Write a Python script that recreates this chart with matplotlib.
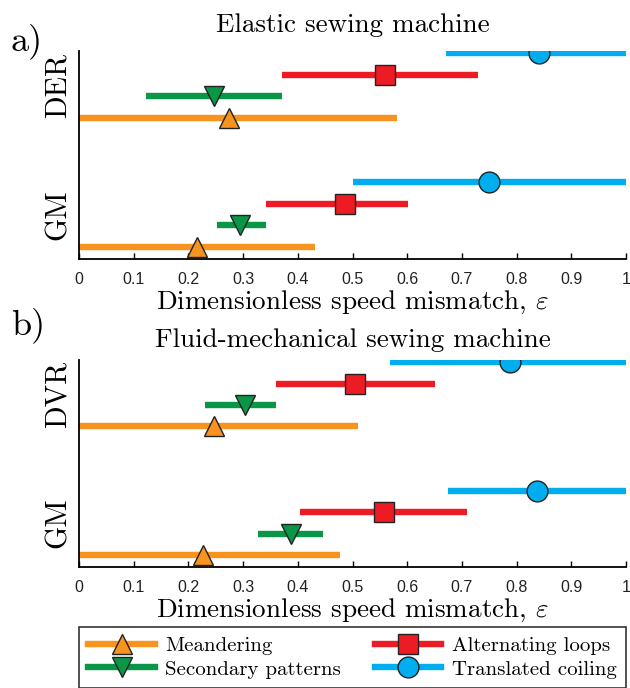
import matplotlib
matplotlib.use("Agg")
import matplotlib.pyplot as plt
from matplotlib.lines import Line2D

# Dati: per ogni regime (basso, centro, alto)
labels = ["Meandering", "Secondary patterns", "Alternating loops", "Translated coiling"]
colors = ["#F7931E", "#0A9647", "#ED1C24", "#00AEEF"]
markers = ["^", "v", "s", "o"]

# a) Elastic sewing machine
a_der_lo = [0.0, 0.122, 0.372, 0.671]
a_der_mid = [0.275, 0.247, 0.559, 0.840]
a_der_hi = [0.581, 0.372, 0.730, 1.0]
a_gm_lo = [0.0, 0.252, 0.342, 0.501]
a_gm_mid = [0.215, 0.295, 0.487, 0.750]
a_gm_hi = [0.431, 0.342, 0.601, 1.0]

# b) Fluid-mechanical sewing machine
b_dvr_lo = [0.0, 0.230, 0.360, 0.569]
b_dvr_mid = [0.246, 0.303, 0.505, 0.788]
b_dvr_hi = [0.510, 0.360, 0.650, 1.0]
b_gm_lo = [0.0, 0.327, 0.404, 0.674]
b_gm_mid = [0.227, 0.388, 0.558, 0.838]
b_gm_hi = [0.478, 0.446, 0.710, 1.0]

xticks = [0, 0.1, 0.2, 0.3, 0.4, 0.5, 0.6, 0.7, 0.8, 0.9, 1]
xticklabels = ["0", "0.1", "0.2", "0.3", "0.4", "0.5", "0.6", "0.7", "0.8", "0.9", "1"]

plt.rcParams['mathtext.fontset'] = 'cm'
serif = 'cmr10'
sans = 'Liberation Sans'


def draw_group(ax, lo, mid, hi, base):
    for i in range(4):
        y = base + i
        ax.plot([lo[i], hi[i]], [y, y], color=colors[i], lw=4.6, solid_capstyle='butt', zorder=2)
        ax.plot(mid[i], y, marker=markers[i], ms=15, mfc=colors[i], mec='#222222', mew=1.0,
                ls='none', zorder=3)


def setup(ax, title, top_label, letter, title_pad, letter_y):
    ax.set_xlim(0, 1)
    ax.set_ylim(-0.56, 9.1)
    ax.spines['top'].set_visible(False)
    ax.spines['right'].set_visible(False)
    ax.spines['left'].set_linewidth(1.3)
    ax.spines['bottom'].set_linewidth(1.3)
    ax.set_xticks(xticks)
    ax.set_xticklabels(xticklabels, family=sans, fontsize=11.5, color='#222222')
    ax.tick_params(axis='x', direction='in', length=4, width=1, pad=9.5)
    ax.set_yticks([1.5, 7.5])
    ax.set_yticklabels(["GM", top_label], rotation=90, va='center', family=serif, fontsize=21.5)
    ax.tick_params(axis='y', length=0, pad=5)
    ax.set_xlabel(r"Dimensionless speed mismatch, $\varepsilon$", family=serif, fontsize=19.5, labelpad=1)
    ax.set_title(title, family=serif, fontsize=19.5, pad=title_pad)
    ax.text(-0.125, letter_y, letter, transform=ax.transAxes, family=serif, fontsize=26, va='center')


fig = plt.figure(figsize=(6.3, 6.88), dpi=100)
ax1 = fig.add_axes([0.1254, 0.6235, 0.8683, 0.3024])
ax2 = fig.add_axes([0.1254, 0.1759, 0.8683, 0.3008])

draw_group(ax1, a_gm_lo, a_gm_mid, a_gm_hi, 0)
draw_group(ax1, a_der_lo, a_der_mid, a_der_hi, 6)
setup(ax1, "Elastic sewing machine", "DER", "a)", 13.5, 1.045)

draw_group(ax2, b_gm_lo, b_gm_mid, b_gm_hi, 0)
draw_group(ax2, b_dvr_lo, b_dvr_mid, b_dvr_hi, 6)
setup(ax2, "Fluid-mechanical sewing machine", "DVR", "b)", 9.5, 1.17)

handles = [Line2D([0], [0], color=colors[i], lw=4.6, marker=markers[i], ms=15,
                  mfc=colors[i], mec='#222222', mew=1.0) for i in range(4)]
leg = fig.legend(handles, labels, ncol=2,
                 loc='upper left', bbox_to_anchor=(0.1254, -0.0113, 0.8683, 0.1),
                 mode='expand', prop={'family': serif, 'size': 15}, frameon=True,
                 fancybox=False, edgecolor='black', handlelength=3.2, borderaxespad=0,
                 borderpad=0.45, handletextpad=0.5, labelspacing=0.25, columnspacing=1.0)
leg.get_frame().set_linewidth(1.2)

fig.savefig("out.png", dpi=100)
